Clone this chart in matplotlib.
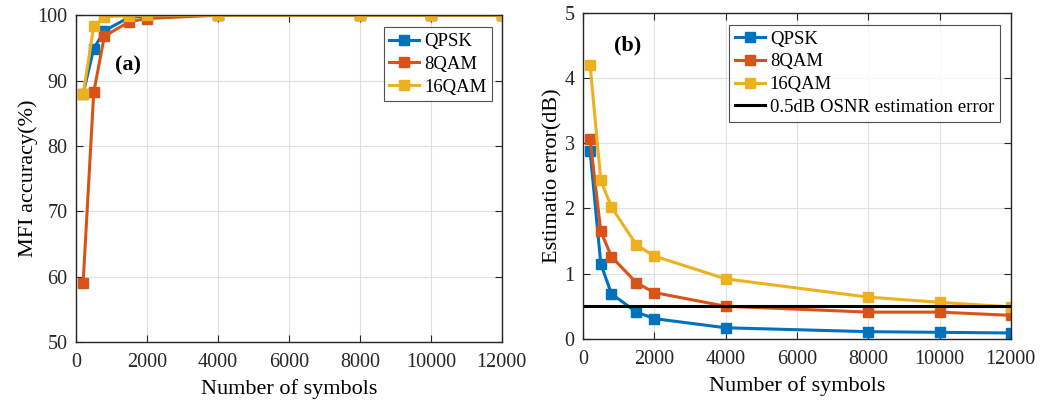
import matplotlib
matplotlib.use("Agg")
import matplotlib.pyplot as plt

x = [200, 500, 800, 1500, 2000, 4000, 8000, 10000, 12000]

acc_qpsk = [88.0, 94.9, 97.6, 99.7, 99.9, 100, 100, 100, 100]
acc_8qam = [59.0, 88.2, 96.8, 99.0, 99.5, 100, 100, 100, 100]
acc_16qam = [87.9, 98.3, 99.8, 99.9, 100, 100, 100, 100, 100]

err_qpsk = [2.88, 1.15, 0.69, 0.41, 0.31, 0.17, 0.11, 0.10, 0.09]
err_8qam = [3.06, 1.65, 1.26, 0.86, 0.71, 0.50, 0.41, 0.41, 0.36]
err_16qam = [4.20, 2.43, 2.02, 1.44, 1.27, 0.92, 0.64, 0.56, 0.49]
ref_err = 0.5

labels = ["QPSK", "8QAM", "16QAM"]
colors = ["#0072BD", "#D95319", "#EDB120"]

plt.rcParams['font.family'] = ['Liberation Serif', 'DejaVu Serif']
plt.rcParams['font.size'] = 14

fig = plt.figure(figsize=(10.41, 4.01), dpi=100)
ax1 = fig.add_axes([0.073, 0.147, 0.409, 0.815])
ax2 = fig.add_axes([0.560, 0.155, 0.411, 0.813])

def style(ax):
    ax.grid(True, color="#e0e0e0", linewidth=0.8)
    ax.set_axisbelow(True)
    ax.tick_params(direction="in", top=True, right=True, length=5, labelsize=14.5,
                   colors="#262626")
    ax.tick_params(axis="x", pad=8)
    ax.tick_params(axis="y", pad=6)
    for s in ax.spines.values():
        s.set_color("#262626")
        s.set_linewidth(1.0)

legkw = dict(loc="upper right", fancybox=False, edgecolor="#262626", fontsize=13.5,
             handlelength=1.6, borderpad=0.3, labelspacing=0.3, handletextpad=0.25,
             borderaxespad=0.0)

for ys, lab, c in zip([acc_qpsk, acc_8qam, acc_16qam], labels, colors):
    ax1.plot(x, ys, '-s', color=c, lw=2.2, ms=6.5, label=lab, markeredgecolor=c)
ax1.set_xlim(0, 12000)
ax1.set_ylim(50, 100)
ax1.set_xticks(range(0, 12001, 2000))
ax1.set_yticks(range(50, 101, 10))
ax1.set_xlabel("Number of symbols", fontsize=16, labelpad=5)
ax1.set_ylabel("MFI accuracy(%)", fontsize=16, labelpad=0)
style(ax1)
ax1.text(0.121, 0.847, "(a)", transform=ax1.transAxes, fontsize=16, fontweight="bold",
         ha="center", va="center")
leg1 = ax1.legend(bbox_to_anchor=(0.977, 0.963), **legkw)
leg1.get_frame().set_linewidth(0.8)

for ys, lab, c in zip([err_qpsk, err_8qam, err_16qam], labels, colors):
    ax2.plot(x, ys, '-s', color=c, lw=2.2, ms=6.5, label=lab, markeredgecolor=c)
ax2.axhline(ref_err, color="black", lw=2.2, label="0.5dB OSNR estimation error")
ax2.set_xlim(0, 12000)
ax2.set_ylim(0, 5)
ax2.set_xticks(range(0, 12001, 2000))
ax2.set_yticks(range(0, 6, 1))
ax2.set_xlabel("Number of symbols", fontsize=16, labelpad=5)
ax2.set_ylabel("Estimatio error(dB)", fontsize=16, labelpad=1.5)
style(ax2)
ax2.text(0.105, 0.899, "(b)", transform=ax2.transAxes, fontsize=16, fontweight="bold",
         ha="center", va="center")
leg2 = ax2.legend(bbox_to_anchor=(0.974, 0.963), **legkw)
leg2.get_frame().set_linewidth(0.8)

fig.savefig("out.png", dpi=100)
